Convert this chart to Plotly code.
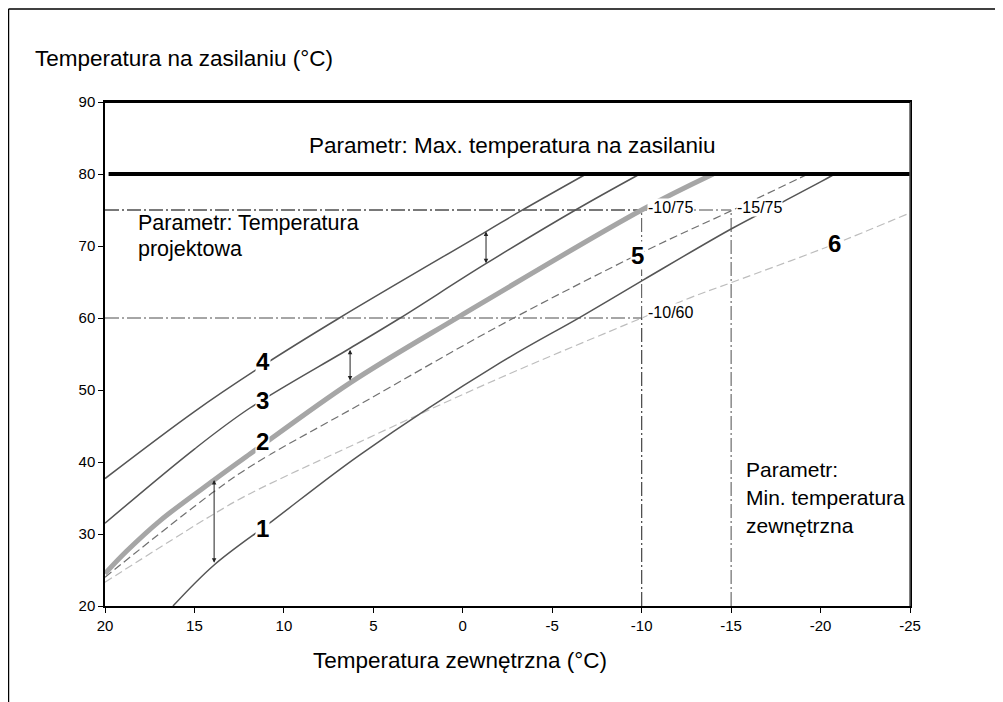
import plotly.graph_objects as go

# ---------------- data ----------------
c1_x = [16.2, 13.9, 10.6, 5.75, -2.1, -6.55, -10.1, -15.1, -18.1, -20.0, -20.8]
c1_y = [20.0, 25.7, 31.9, 41.0, 53.8, 60.1, 65.3, 72.5, 76.4, 78.9, 80.0]

c2_x = [20, 18.8, 16.9, 13.9, 11.9, 6.3, 0.2, -10, -14]
c2_y = [24.5, 27.6, 31.9, 37.5, 41.1, 51.0, 60.2, 75.0, 80.0]

c3_x = [20, 15, 11.9, 6.3, 3.5, -1.2, -6.3, -9.9]
c3_y = [31.5, 41.8, 47.5, 55.8, 60.0, 67.4, 75.0, 80.0]

c4_x = [20, 15, 11.3, 6.9, -1.3, -3.2, -6.9]
c4_y = [37.7, 47.0, 53.2, 60.0, 72.0, 74.8, 80.0]

c5_x = [20, 13.9, 11.6, 5.75, -2.1, -10.1, -15.1, -18.8, -19.3]
c5_y = [24.0, 35.9, 39.8, 48.0, 59.0, 69.2, 75.0, 79.4, 80.0]

c6_x = [20, 13.9, 11.9, 5.75, -2.1, -10, -12.7, -15.1, -20.4, -25]
c6_y = [23.3, 32.8, 35.6, 42.8, 51.7, 60.0, 62.8, 65.0, 69.9, 74.6]

max_flow = 80
design_x = [-10, -15, -10]
design_y = [75, 75, 60]
design_labels = ["-10/75", "-15/75", "-10/60"]
design_label_y = [75.3, 75.3, 60.8]

curve_labels = ["1", "2", "3", "4", "5", "6"]
curve_label_x = [11.17, 11.17, 11.17, 11.17, -9.74, -20.8]
curve_label_y = [30.8, 42.8, 48.6, 53.9, 68.7, 70.3]

# shift arrows: x, y_top, y_bottom
arrow_x = [13.9, 6.3, -1.3]
arrow_top = [37.5, 55.6, 72.0]
arrow_bot = [25.8, 51.1, 67.4]

x_ticks = [20, 15, 10, 5, 0, -5, -10, -15, -20, -25]
x_ticktext = ["20", "15", "10", "5", "0", "-5", "-10", "-15", "-20", "-25"]
y_ticks = [20, 30, 40, 50, 60, 70, 80, 90]

X_MIN, X_MAX = 20, -25
Y_MIN, Y_MAX = 20, 90

FONT = "Arial, Liberation Sans, sans-serif"
DASHDOT = "14px,3px,2px,3px"

fig = go.Figure()

# design point guide lines (dash-dot)
for dx, dy in zip(design_x, design_y):
    fig.add_trace(go.Scatter(x=[X_MIN, dx], y=[dy, dy], mode="lines",
                             line=dict(color="#4d4d4d", width=1, dash=DASHDOT),
                             hoverinfo="skip", showlegend=False))
    fig.add_trace(go.Scatter(x=[dx, dx], y=[Y_MIN, dy], mode="lines",
                             line=dict(color="#4d4d4d", width=1, dash=DASHDOT),
                             hoverinfo="skip", showlegend=False))

# curves
def add_curve(xs, ys, color, width, dash="solid"):
    fig.add_trace(go.Scatter(x=xs, y=ys, mode="lines",
                             line=dict(color=color, width=width, dash=dash, shape="spline", smoothing=1.0),
                             hoverinfo="skip", showlegend=False))

add_curve(c6_x, c6_y, "#bdbdbd", 1.2, "8px,4px")
add_curve(c5_x, c5_y, "#707070", 1.2, "8px,4px")
add_curve(c1_x, c1_y, "#555555", 1.5)
add_curve(c4_x, c4_y, "#555555", 1.5)
add_curve(c3_x, c3_y, "#555555", 1.5)
add_curve(c2_x, c2_y, "#a6a6a6", 5)

# max flow temperature line
fig.add_trace(go.Scatter(x=[X_MIN - 0.2, X_MAX], y=[max_flow, max_flow], mode="lines",
                         line=dict(color="#000000", width=4),
                         hoverinfo="skip", showlegend=False))

annotations = []

# curve number labels
for t, lx, ly in zip(curve_labels, curve_label_x, curve_label_y):
    annotations.append(dict(x=lx, y=ly, xref="x", yref="y", text="<b>%s</b>" % t,
                            showarrow=False, font=dict(family=FONT, size=24, color="#000"),
                            bgcolor="white", borderpad=0))

# design point labels
for t, dx, ly in zip(design_labels, design_x, design_label_y):
    annotations.append(dict(x=dx - 0.3, y=ly, xref="x", yref="y", text=t,
                            showarrow=False, xanchor="left", yanchor="middle",
                            font=dict(family=FONT, size=16, color="#000"),
                            bgcolor="white", borderpad=0))

# shift arrows
for axx, yt, yb in zip(arrow_x, arrow_top, arrow_bot):
    annotations.append(dict(x=axx, y=yt, ax=axx, ay=yb, xref="x", yref="y", axref="x", ayref="y",
                            text="", showarrow=True, arrowhead=2, arrowside="end+start",
                            arrowsize=0.9, arrowwidth=1, arrowcolor="#222222", standoff=0, startstandoff=0))

# parameter texts
annotations.append(dict(x=-2.73, y=83.9, xref="x", yref="y", text="Parametr: Max. temperatura na zasilaniu",
                        showarrow=False, font=dict(family=FONT, size=22.5, color="#000")))
annotations.append(dict(x=18.25, y=73.2, xref="x", yref="y", text="Parametr: Temperatura",
                        showarrow=False, xanchor="left", font=dict(family=FONT, size=21.5, color="#000")))
annotations.append(dict(x=18.25, y=69.6, xref="x", yref="y", text="projektowa",
                        showarrow=False, xanchor="left", font=dict(family=FONT, size=21.5, color="#000")))
for t, ly in zip(["Parametr:", "Min. temperatura", "zewnętrzna"], [38.9, 35.05, 31.2]):
    annotations.append(dict(x=-15.72, y=ly, xref="x", yref="y", text=t,
                            showarrow=False, xanchor="left", font=dict(family=FONT, size=21, color="#000")))

# axis titles
annotations.append(dict(x=-0.0894, y=1.0873, xref="paper", yref="paper", xanchor="left", yanchor="middle",
                        text="Temperatura na zasilaniu (°C)", showarrow=False,
                        font=dict(family=FONT, size=22.5, color="#000")))
annotations.append(dict(x=0.441, y=-0.109, xref="paper", yref="paper", xanchor="center", yanchor="middle",
                        text="Temperatura zewnętrzna (°C)", showarrow=False,
                        font=dict(family=FONT, size=22.5, color="#000")))

shapes = [
    dict(type="line", xref="paper", yref="paper", x0=-0.1199, x1=-0.1199, y0=-0.25, y1=1.1845,
         line=dict(color="#000", width=1.5)),
    dict(type="line", xref="paper", yref="paper", x0=-0.1199, x1=1.2, y0=1.1845, y1=1.1845,
         line=dict(color="#000", width=1.5)),
    # right frame edge of the plot area is grey in the reference
    dict(type="line", xref="paper", yref="paper", x0=1, x1=1, y0=0, y1=1,
         line=dict(color="#555555", width=1.5)),
    # heavier top edge
    dict(type="line", xref="paper", yref="paper", x0=0, x1=1, y0=1, y1=1,
         line=dict(color="#000", width=2)),
]

fig.update_layout(
    width=1003, height=702,
    margin=dict(l=97, r=101, t=94, b=104),
    paper_bgcolor="white", plot_bgcolor="white",
    showlegend=False,
    annotations=annotations,
    shapes=shapes,
    font=dict(family=FONT, color="#000"),
    xaxis=dict(range=[X_MIN, X_MAX], tickvals=x_ticks, ticktext=x_ticktext,
               ticks="outside", ticklen=5, tickcolor="#000", showline=True, linecolor="#000",
               linewidth=1.5, mirror=True, showgrid=False, zeroline=False,
               tickfont=dict(family=FONT, size=15, color="#000")),
    yaxis=dict(range=[Y_MIN, Y_MAX], tickvals=y_ticks,
               ticks="outside", ticklen=5, tickcolor="#000", showline=True, linecolor="#000",
               linewidth=1.5, mirror=True, showgrid=False, zeroline=False,
               tickfont=dict(family=FONT, size=15, color="#000")),
)

fig.write_html("out.html")
